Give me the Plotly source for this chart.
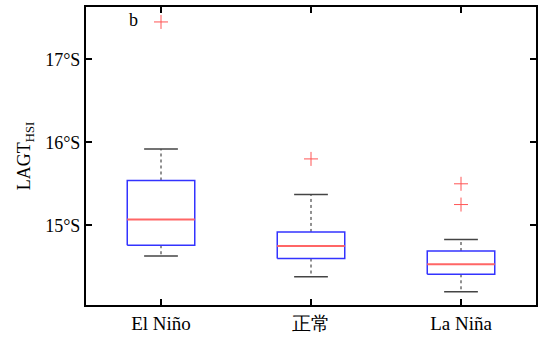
import plotly.graph_objects as go

categories = ["El Niño", "正常", "La Niña"]
lower_whisker = [14.63, 14.38, 14.20]
q1 = [14.76, 14.60, 14.41]
median = [15.07, 14.75, 14.53]
q3 = [15.54, 14.92, 14.69]
upper_whisker = [15.92, 15.37, 14.83]
outliers = [[17.45], [15.80], [15.50, 15.25]]
ytick_vals = [15, 16, 17]
ytick_text = ["15°S", "16°S", "17°S"]

BOX_HALF = 0.225
CAP_HALF = 0.1125
FONT = "Liberation Serif"

fig = go.Figure()
for i, cat in enumerate(categories):
    x0, x1 = i - BOX_HALF, i + BOX_HALF
    c0, c1 = i - CAP_HALF, i + CAP_HALF
    fig.add_trace(go.Scatter(x=[i, i, None, i, i],
                             y=[q3[i], upper_whisker[i], None, q1[i], lower_whisker[i]],
                             mode="lines", line=dict(color="#222222", width=1, dash="dot"),
                             showlegend=False, hoverinfo="skip"))
    fig.add_trace(go.Scatter(x=[c0, c1, None, c0, c1],
                             y=[upper_whisker[i], upper_whisker[i], None, lower_whisker[i], lower_whisker[i]],
                             mode="lines", line=dict(color="#444444", width=1.5),
                             showlegend=False, hoverinfo="skip"))
    fig.add_trace(go.Scatter(x=[x0, x1, x1, x0, x0],
                             y=[q1[i], q1[i], q3[i], q3[i], q1[i]],
                             mode="lines", line=dict(color="#3333ff", width=1.5),
                             showlegend=False, hoverinfo="skip"))
    fig.add_trace(go.Scatter(x=[x0, x1], y=[median[i], median[i]],
                             mode="lines", line=dict(color="#ff6666", width=2),
                             showlegend=False, hoverinfo="skip"))
    fig.add_trace(go.Scatter(x=[i] * len(outliers[i]), y=outliers[i],
                             mode="markers",
                             marker=dict(symbol="cross-thin", size=10,
                                         line=dict(color="#ff5555", width=1)),
                             showlegend=False, hoverinfo="skip"))

fig.add_annotation(text="b", x=0.09, y=17.47, xref="paper", yref="y",
                   showarrow=False, font=dict(family=FONT, size=18, color="black"))

axis_common = dict(showgrid=False, zeroline=False, showline=True, linecolor="black",
                   linewidth=2, mirror="ticks", ticks="inside", ticklen=6, tickwidth=2,
                   tickcolor="black")

fig.update_layout(
    width=542, height=338,
    margin=dict(l=86, r=4, t=7, b=30),
    plot_bgcolor="white", paper_bgcolor="white",
    font=dict(family=FONT, size=18, color="black"),
    xaxis=dict(range=[-0.5, 2.5], tickvals=[0, 1, 2], ticktext=categories,
               tickfont=dict(family=FONT, size=19, color="black"), **axis_common),
    yaxis=dict(range=[14.04, 17.63], tickvals=ytick_vals, ticktext=ytick_text,
               tickfont=dict(family=FONT, size=18, color="black"),
               title=dict(text="LAGT<sub>HSI</sub>", font=dict(family=FONT, size=18), standoff=10),
               **axis_common),
)

fig.write_html("out.html", config={"displayModeBar": False},
               post_script="document.body.style.margin='0';document.body.style.overflow='hidden';")
